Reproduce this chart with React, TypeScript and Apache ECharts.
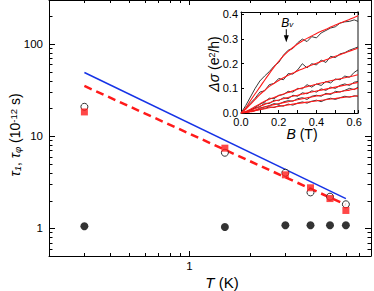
import React, { useEffect, useRef } from 'react';
import * as echarts from 'echarts';

// ---------- main panel data ----------
const T = [0.3, 1.5, 3, 4, 5, 6];
const tauFilled = [1.05, 1.03, 1.08, 1.08, 1.08, 1.08];
const tauOpen = [20.8, 6.6, 4.0, 2.45, 2.2, 1.82];
const tauSquare = [18.3, 7.4, 3.8, 2.75, 2.1, 1.56];
const blueT = [0.3, 6];
const blueTau = [49, 2.1];
const redT = [0.3, 6];
const redTau = [35, 1.8];

const X_MIN = 0.2, X_MAX = 8, Y_MIN = 0.5, Y_MAX = 300;
const xMajor = [1];
const xMinor = [0.3, 0.4, 0.5, 0.6, 0.7, 0.8, 0.9, 2, 3, 4, 5, 6, 7, 8];
const yMajor = [1, 10, 100];
const yMinor = [0.6, 0.7, 0.8, 0.9, 2, 3, 4, 5, 6, 7, 8, 9, 20, 30, 40, 50, 60, 70, 80, 90, 200];

// ---------- inset data ----------
const B = [0, 0.025, 0.05, 0.075, 0.1, 0.125, 0.15, 0.175, 0.2, 0.225, 0.25, 0.275, 0.3, 0.325, 0.35, 0.375, 0.4, 0.425, 0.45, 0.475, 0.5, 0.525, 0.55, 0.575, 0.6, 0.62];
const data1 = [0, 0.03, 0.065, 0.1, 0.13, 0.15, 0.168, 0.19, 0.205, 0.235, 0.255, 0.262, 0.285, 0.3, 0.29, 0.31, 0.305, 0.325, 0.335, 0.345, 0.35, 0.365, 0.37, 0.372, 0.378, 0.372];
const fit1 = [0, 0.02, 0.05, 0.078, 0.105, 0.133, 0.16, 0.186, 0.21, 0.232, 0.25, 0.266, 0.28, 0.292, 0.303, 0.313, 0.323, 0.332, 0.34, 0.349, 0.357, 0.365, 0.372, 0.38, 0.388, 0.395];
const data2 = [0, 0.02, 0.04, 0.06, 0.085, 0.09, 0.115, 0.12, 0.14, 0.135, 0.16, 0.158, 0.175, 0.2, 0.183, 0.2, 0.195, 0.215, 0.205, 0.23, 0.225, 0.24, 0.245, 0.255, 0.262, 0.268];
const fit2 = [0, 0.015, 0.035, 0.055, 0.075, 0.092, 0.108, 0.12, 0.132, 0.143, 0.153, 0.162, 0.171, 0.179, 0.187, 0.195, 0.202, 0.209, 0.216, 0.223, 0.23, 0.237, 0.244, 0.251, 0.258, 0.264];
const data3 = [0, 0.005, 0.012, 0.022, 0.035, 0.045, 0.06, 0.058, 0.072, 0.075, 0.088, 0.085, 0.1, 0.098, 0.115, 0.105, 0.118, 0.112, 0.128, 0.122, 0.138, 0.135, 0.15, 0.145, 0.165, 0.175];
const fit3 = [0, 0.006, 0.015, 0.026, 0.037, 0.048, 0.056, 0.063, 0.07, 0.077, 0.083, 0.09, 0.097, 0.102, 0.107, 0.112, 0.117, 0.122, 0.126, 0.131, 0.135, 0.139, 0.143, 0.147, 0.151, 0.155];
const data4 = [0, 0.003, 0.012, 0.02, 0.025, 0.04, 0.038, 0.052, 0.05, 0.062, 0.058, 0.072, 0.068, 0.082, 0.078, 0.09, 0.085, 0.098, 0.092, 0.105, 0.1, 0.112, 0.118, 0.112, 0.125, 0.128];
const fit4 = [0, 0.004, 0.01, 0.018, 0.027, 0.035, 0.042, 0.048, 0.053, 0.058, 0.063, 0.068, 0.072, 0.077, 0.081, 0.085, 0.089, 0.093, 0.097, 0.101, 0.105, 0.109, 0.113, 0.117, 0.121, 0.124];
const data5 = [0, 0.004, 0.008, 0.01, 0.02, 0.025, 0.03, 0.038, 0.035, 0.045, 0.05, 0.048, 0.058, 0.062, 0.055, 0.068, 0.072, 0.068, 0.08, 0.075, 0.088, 0.085, 0.092, 0.1, 0.095, 0.105];
const fit5 = [0, 0.002, 0.006, 0.012, 0.018, 0.024, 0.029, 0.034, 0.038, 0.042, 0.046, 0.05, 0.054, 0.058, 0.062, 0.065, 0.069, 0.072, 0.076, 0.079, 0.083, 0.086, 0.09, 0.093, 0.097, 0.1];
const data6 = [0, 0.002, 0.006, 0.01, 0.015, 0.018, 0.025, 0.022, 0.03, 0.028, 0.036, 0.032, 0.04, 0.045, 0.04, 0.048, 0.052, 0.046, 0.055, 0.06, 0.055, 0.062, 0.068, 0.064, 0.07, 0.068];
const fit6 = [0, 0.002, 0.005, 0.009, 0.013, 0.017, 0.021, 0.024, 0.027, 0.03, 0.033, 0.036, 0.039, 0.041, 0.044, 0.047, 0.049, 0.052, 0.054, 0.057, 0.059, 0.062, 0.064, 0.066, 0.068, 0.07];
const insetData = [data1, data2, data3, data4, data5, data6];
const insetFits = [fit1, fit2, fit3, fit4, fit5, fit6];
const IB_MAX = 0.62, IS_MAX = 0.41;
const arrowB = 0.24, arrowFrom = 0.34, arrowTo = 0.287;
const bvLabel = [0.245, 0.366];

const FONT = '"Liberation Sans", Arial, Helvetica, sans-serif';

const isPow10 = (v: number) => {
  const l = Math.log10(v);
  return Math.abs(l - Math.round(l)) < 1e-6;
};

export default function App() {
  const ref = useRef<HTMLDivElement>(null);
  useEffect(() => {
    if (!ref.current) return;
    const chart = echarts.init(ref.current, undefined, { renderer: 'svg' });
    const line = (x1: number, y1: number, x2: number, y2: number, w = 1) => ({
      type: 'line',
      shape: { x1, y1, x2, y2 },
      style: { stroke: '#000', lineWidth: w },
    });
    const snap = (v: number) => Math.round(v) + 0.5;

    const xTickData = [...xMajor.map(v => [v, Y_MIN, 5]), ...xMinor.map(v => [v, Y_MIN, 3])];
    const yTickData = [...yMajor.map(v => [X_MIN, v, 6]), ...yMinor.map(v => [X_MIN, v, 3.5])];

    const option: any = {
      animation: false,
      textStyle: { fontFamily: FONT },
      grid: [
        { left: 49, top: 0, right: 1, bottom: 35 },
        { left: 241, top: 12, width: 117, height: 101 },
      ],
      xAxis: [
        {
          type: 'log', gridIndex: 0, min: X_MIN, max: X_MAX, position: 'bottom',
          axisLine: { lineStyle: { color: '#000', width: 1 } },
          axisTick: { show: false }, splitLine: { show: false },
          axisLabel: {
            margin: 4, color: '#000', fontSize: 11.5, fontFamily: FONT,
            formatter: (v: number) => (Math.abs(v - 1) < 1e-6 ? '1' : ''),
          },
        },
        {
          type: 'log', gridIndex: 0, min: X_MIN, max: X_MAX, position: 'top',
          axisLine: { lineStyle: { color: '#000', width: 1 } },
          axisTick: { show: false }, axisLabel: { show: false }, splitLine: { show: false },
        },
        {
          type: 'value', gridIndex: 1, min: 0, max: IB_MAX, interval: 0.1, position: 'bottom',
          axisLine: { onZero: false, lineStyle: { color: '#000', width: 1 } },
          axisTick: { inside: true, length: 3, lineStyle: { color: '#000' } },
          splitLine: { show: false },
          axisLabel: {
            margin: 3, color: '#000', fontSize: 11, fontFamily: FONT,
            formatter: (v: number) => (Math.abs(v * 5 - Math.round(v * 5)) < 1e-6 && v <= 0.6 + 1e-9 ? v.toFixed(1) : ''),
          },
        },
        {
          type: 'value', gridIndex: 1, min: 0, max: IB_MAX, interval: 0.1, position: 'top',
          axisLine: { onZero: false, lineStyle: { color: '#000', width: 1 } },
          axisTick: { inside: true, length: 3, lineStyle: { color: '#000' } },
          axisLabel: { show: false }, splitLine: { show: false },
        },
      ],
      yAxis: [
        {
          type: 'log', gridIndex: 0, min: Y_MIN, max: Y_MAX, position: 'left',
          axisLine: { lineStyle: { color: '#000', width: 1 } },
          axisTick: { show: false }, splitLine: { show: false },
          axisLabel: {
            margin: 6, color: '#000', fontSize: 11.5, fontFamily: FONT,
            formatter: (v: number) => (isPow10(v) ? String(Math.round(v)) : ''),
          },
        },
        {
          type: 'log', gridIndex: 0, min: Y_MIN, max: Y_MAX, position: 'right',
          axisLine: { lineStyle: { color: '#000', width: 1 } },
          axisTick: { show: false }, axisLabel: { show: false }, splitLine: { show: false },
        },
        {
          type: 'value', gridIndex: 1, min: 0, max: IS_MAX, interval: 0.1, position: 'left',
          axisLine: { onZero: false, lineStyle: { color: '#000', width: 1 } },
          axisTick: { inside: true, length: 3, lineStyle: { color: '#000' } },
          splitLine: { show: false },
          axisLabel: {
            margin: 3, color: '#000', fontSize: 11, fontFamily: FONT,
            formatter: (v: number) => (Math.abs(v * 10 - Math.round(v * 10)) < 1e-6 && v <= 0.4 + 1e-9 ? v.toFixed(1) : ''),
          },
        },
        {
          type: 'value', gridIndex: 1, min: 0, max: IS_MAX, interval: 0.1, position: 'right',
          axisLine: { onZero: false, lineStyle: { color: '#8a8a8a', width: 2 } },
          axisTick: { show: false }, axisLabel: { show: false }, splitLine: { show: false },
        },
      ],
      series: [
        {
          type: 'line', xAxisIndex: 0, yAxisIndex: 0, showSymbol: false, symbol: 'none',
          data: blueT.map((t, i) => [t, blueTau[i]]),
          lineStyle: { color: '#1633e6', width: 1.5 }, z: 2,
        },
        {
          type: 'line', xAxisIndex: 0, yAxisIndex: 0, showSymbol: false, symbol: 'none',
          data: redT.map((t, i) => [t, redTau[i]]),
          lineStyle: { color: '#ff1a1a', width: 2.5, type: [8, 5] }, z: 2,
        },
        {
          type: 'scatter', xAxisIndex: 0, yAxisIndex: 0, symbol: 'circle', symbolSize: 8,
          data: T.map((t, i) => [t, tauFilled[i]]),
          itemStyle: { color: '#000' }, z: 3,
        },
        {
          type: 'scatter', xAxisIndex: 0, yAxisIndex: 0, symbol: 'circle', symbolSize: 7,
          data: T.map((t, i) => [t, tauOpen[i]]),
          itemStyle: { color: '#fff', borderColor: '#000', borderWidth: 1 }, z: 3,
        },
        {
          type: 'scatter', xAxisIndex: 0, yAxisIndex: 0, symbol: 'rect', symbolSize: 7,
          data: T.map((t, i) => [t, tauSquare[i]]),
          itemStyle: { color: '#ff1a1a' }, z: 4,
        },
        {
          type: 'custom', xAxisIndex: 0, yAxisIndex: 0, encode: { x: 0, y: 1 },
          data: xTickData, z: 5, silent: true,
          renderItem: (_p: any, api: any) => {
            const v = api.value(0), len = api.value(2);
            const b = api.coord([v, Y_MIN]);
            const t = api.coord([v, Y_MAX]);
            const x = snap(b[0]);
            return { type: 'group', children: [line(x, b[1], x, b[1] - len), line(x, t[1], x, t[1] + len)] };
          },
        },
        {
          type: 'custom', xAxisIndex: 0, yAxisIndex: 0, encode: { x: 0, y: 1 },
          data: yTickData, z: 5, silent: true,
          renderItem: (_p: any, api: any) => {
            const v = api.value(1), len = api.value(2);
            const l = api.coord([X_MIN, v]);
            const r = api.coord([X_MAX, v]);
            const y = snap(l[1]);
            return { type: 'group', children: [line(l[0], y, l[0] + len, y), line(r[0], y, r[0] - len, y)] };
          },
        },
        ...insetData.map(d => ({
          type: 'line', xAxisIndex: 2, yAxisIndex: 2, showSymbol: false, symbol: 'none',
          data: B.map((b, i) => [b, d[i]]),
          lineStyle: { color: '#222', width: 0.9 }, z: 6,
        })),
        ...insetFits.map(d => ({
          type: 'line', xAxisIndex: 2, yAxisIndex: 2, showSymbol: false, symbol: 'none', smooth: 0.3,
          data: B.map((b, i) => [b, d[i]]),
          lineStyle: { color: '#ff1a1a', width: 1.1 }, z: 7,
        })),
        {
          type: 'custom', xAxisIndex: 2, yAxisIndex: 2, encode: { x: 0, y: 1 },
          data: [[arrowB, arrowFrom, arrowTo, bvLabel[0], bvLabel[1]]], z: 8, silent: true,
          renderItem: (_p: any, api: any) => {
            const p1 = api.coord([api.value(0), api.value(1)]);
            const p2 = api.coord([api.value(0), api.value(2)]);
            const pl = api.coord([api.value(3), api.value(4)]);
            const x = p1[0];
            return {
              type: 'group',
              children: [
                line(x, p1[1], x, p2[1] - 6, 1),
                { type: 'polygon', shape: { points: [[x - 2.5, p2[1] - 7], [x + 2.5, p2[1] - 7], [x, p2[1]]] }, style: { fill: '#000' } },
                {
                  type: 'text', x: pl[0], y: pl[1],
                  style: {
                    text: '{b|B}{s|v}', align: 'center', verticalAlign: 'middle',
                    rich: {
                      b: { fontSize: 12, fontStyle: 'italic', fontFamily: FONT, fill: '#000' },
                      s: { fontSize: 8, fontStyle: 'italic', fontFamily: FONT, fill: '#000', verticalAlign: 'bottom', lineHeight: 6 },
                    },
                  },
                },
              ],
            };
          },
        },
      ],
      graphic: [
        {
          type: 'text', x: 222, y: 282,
          style: {
            text: '{i|T}{n| (K)}', align: 'center', verticalAlign: 'middle',
            rich: {
              i: { fontSize: 15, fontStyle: 'italic', fontFamily: FONT, fill: '#000' },
              n: { fontSize: 15, fontFamily: FONT, fill: '#000' },
            },
          },
        },
        {
          type: 'text', x: 15, y: 135, rotation: Math.PI / 2,
          style: {
            text: '{i|τ}{sub|1}{n|, }{i|τ}{sub|φ}{n| (10}{sup|-12}{n| s)}', align: 'center', verticalAlign: 'middle',
            rich: {
              i: { fontSize: 14, fontStyle: 'italic', fontFamily: FONT, fill: '#000' },
              n: { fontSize: 14, fontFamily: FONT, fill: '#000' },
              sub: { fontSize: 9.5, fontStyle: 'italic', fontFamily: FONT, fill: '#000', verticalAlign: 'bottom', lineHeight: 8 },
              sup: { fontSize: 9.5, fontFamily: FONT, fill: '#000', verticalAlign: 'top', lineHeight: 8 },
            },
          },
        },
        {
          type: 'text', x: 214, y: 64, rotation: Math.PI / 2,
          style: {
            text: '{i|Δσ}{n| (e}{sup|2}{n|/h)}', align: 'center', verticalAlign: 'middle',
            rich: {
              i: { fontSize: 14, fontStyle: 'italic', fontFamily: FONT, fill: '#000' },
              n: { fontSize: 14, fontFamily: FONT, fill: '#000' },
              sup: { fontSize: 9, fontFamily: FONT, fill: '#000', verticalAlign: 'top', lineHeight: 8 },
            },
          },
        },
        {
          type: 'text', x: 302, y: 134,
          style: {
            text: '{i|B}{n| (T)}', align: 'center', verticalAlign: 'middle',
            rich: {
              i: { fontSize: 14, fontStyle: 'italic', fontFamily: FONT, fill: '#000' },
              n: { fontSize: 14, fontFamily: FONT, fill: '#000' },
            },
          },
        },
      ],
    };
    chart.setOption(option);
    return () => chart.dispose();
  }, []);
  return <div ref={ref} style={{ position: 'fixed', left: 0, top: 0, width: 374, height: 291, background: '#fff' }} />;
}
